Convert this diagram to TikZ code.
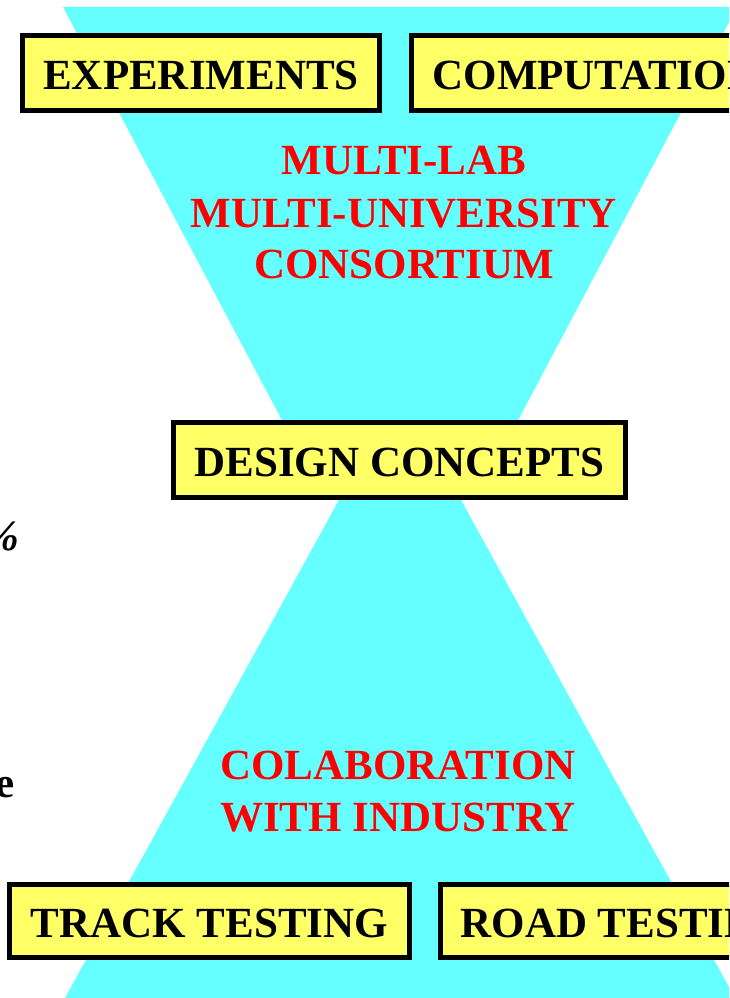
\documentclass[tikz,border=0pt]{standalone}
\usepackage{fontspec}
\setmainfont{Liberation Serif}
\definecolor{funnelcyan}{RGB}{102,255,255}
\definecolor{boxyellow}{RGB}{255,255,102}
\definecolor{labelred}{RGB}{255,0,0}
\tikzset{
  stagebox/.style={draw=black, line width=5pt, fill=boxyellow, inner sep=0pt,
    text height=32pt, text depth=0pt,
    minimum height=75pt, font=\fontsize{43}{49}\selectfont\bfseries},
  redline/.style={text=labelred, inner sep=0pt, anchor=base,
    font=\fontsize{43}{49}\selectfont\bfseries},
  sidetext/.style={inner sep=0pt, anchor=base east,
    font=\fontsize{43}{49}\selectfont\bfseries}
}
\begin{document}
\begin{tikzpicture}[x=1pt,y=-1pt]
  \useasboundingbox (0,0) rectangle (729,998);
  \clip (0,0) rectangle (729,998);
  % hourglass funnel behind the boxes
  \fill[funnelcyan] (63,7) -- (737,7) -- (497,460) -- (303,460) -- cycle;
  \fill[funnelcyan] (361,460) -- (439,460) -- (735,998) -- (65,998) -- cycle;

  % text fragments at the left margin
  \node[sidetext, font=\fontsize{43}{49}\selectfont\bfseries\itshape] (pct) at (20,550) {\%};
  \node[sidetext] (ech) at (15,797) {e};

  % input boxes
  \node[stagebox, minimum width=357pt] (exp) at (201,73) {EXPERIMENTS};
  \node[stagebox, anchor=west, inner xsep=21.5pt] (comp) at (408.5,73) {COMPUTATIONS};

  % consortium label
  \node[redline] (lab1) at (404,174) {MULTI-LAB};
  \node[redline] (lab2) at (404,227) {MULTI-UNIVERSITY};
  \node[redline] (lab3) at (404,278) {CONSORTIUM};

  % waist
  \node[stagebox, minimum width=452pt] (design) at (399.5,460) {DESIGN CONCEPTS};

  % industry label
  \node[redline] (ind1) at (398,779) {COLABORATION};
  \node[redline] (ind2) at (398,831) {WITH INDUSTRY};

  % output boxes
  \node[stagebox, minimum width=400pt, minimum height=73pt] (track) at (209.5,921) {TRACK TESTING};
  \node[stagebox, anchor=west, inner xsep=20.5pt, minimum height=73pt] (road) at (437.5,921) {ROAD TESTING};
\end{tikzpicture}
\end{document}
